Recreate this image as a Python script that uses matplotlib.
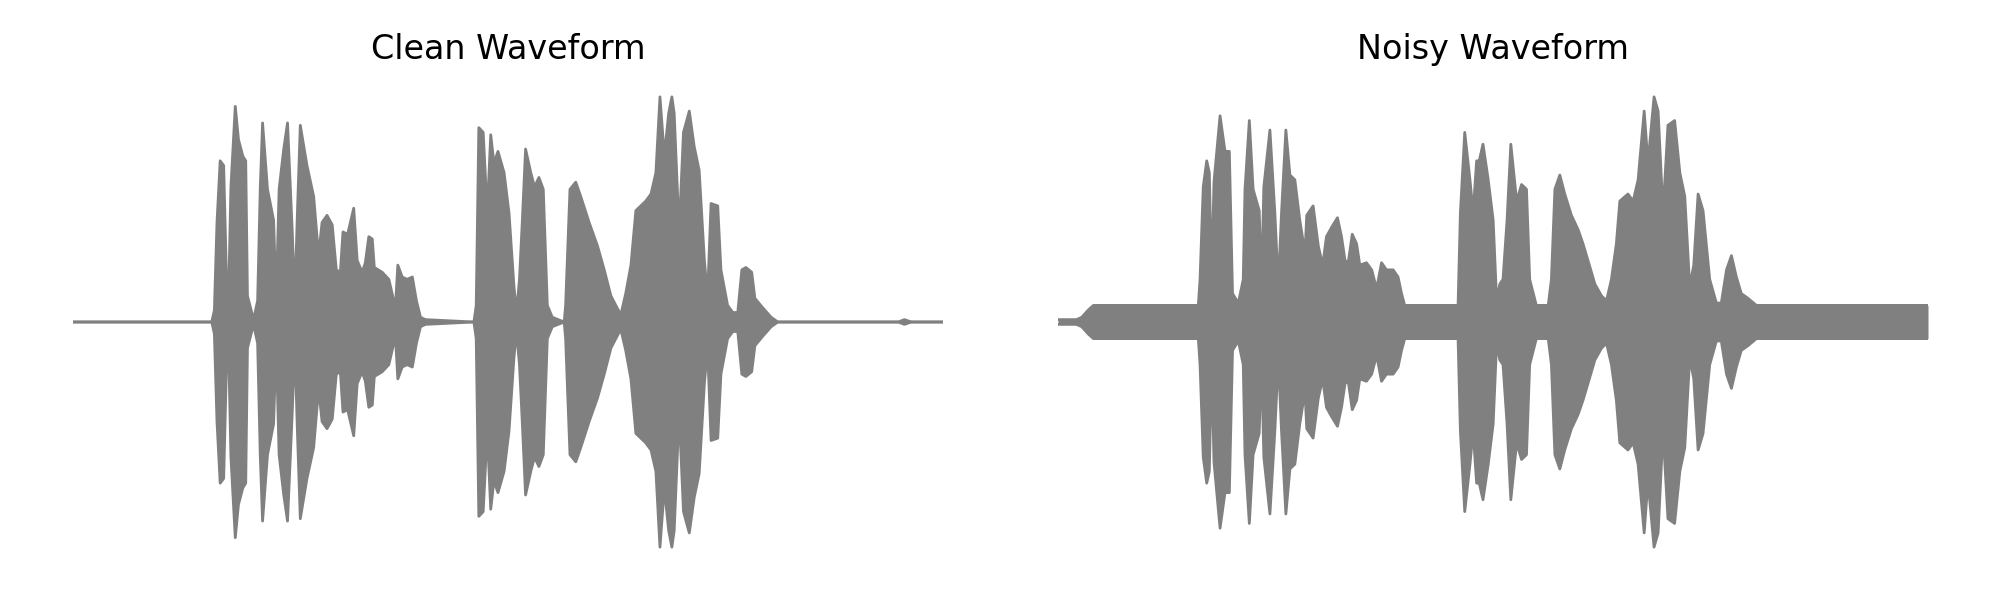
import matplotlib.pyplot as plt

# Envelope of the clean waveform (time in s, peak amplitude)
clean_t = [0.000, 0.478, 0.487, 0.496, 0.507, 0.519, 0.530, 0.536, 0.544, 0.559,
           0.570, 0.585, 0.595, 0.601, 0.622, 0.636, 0.645, 0.653, 0.670, 0.691,
           0.700, 0.710, 0.726, 0.739, 0.755, 0.764, 0.773, 0.783, 0.806, 0.829,
           0.846, 0.858, 0.875, 0.893, 0.907, 0.921, 0.930, 0.946, 0.967, 0.979,
           0.996, 1.007, 1.019, 1.031, 1.038, 1.065, 1.088, 1.105, 1.111, 1.119,
           1.134, 1.151, 1.169, 1.183, 1.197, 1.214, 1.381, 1.389, 1.398, 1.413,
           1.427, 1.439, 1.450, 1.464, 1.485, 1.502, 1.519, 1.528, 1.538, 1.548,
           1.559, 1.577, 1.590, 1.605, 1.620, 1.634, 1.651, 1.692, 1.697, 1.712,
           1.732, 1.749, 1.778, 1.807, 1.830, 1.853, 1.870, 1.887, 1.904, 1.922,
           1.939, 1.956, 1.973, 1.991, 2.008, 2.022, 2.037, 2.052, 2.063, 2.071,
           2.088, 2.103, 2.123, 2.140, 2.157, 2.175, 2.186, 2.198, 2.221, 2.232,
           2.255, 2.273, 2.290, 2.304, 2.318, 2.338, 2.349, 2.376, 2.405, 2.428,
           2.843, 2.864, 2.888, 2.997]
clean_amp = [0.00, 0.00, 0.05, 0.42, 0.68, 0.66, 0.12, 0.11, 0.57, 0.91,
             0.77, 0.70, 0.68, 0.11, 0.01, 0.09, 0.56, 0.84, 0.56, 0.43,
             0.09, 0.56, 0.73, 0.84, 0.39, 0.09, 0.46, 0.83, 0.66, 0.53,
             0.28, 0.42, 0.45, 0.41, 0.22, 0.21, 0.38, 0.37, 0.48, 0.26,
             0.21, 0.25, 0.36, 0.35, 0.23, 0.21, 0.18, 0.09, 0.07, 0.24,
             0.19, 0.18, 0.19, 0.09, 0.02, 0.01, 0.00, 0.07, 0.82, 0.80,
             0.46, 0.79, 0.67, 0.72, 0.63, 0.46, 0.15, 0.04, 0.18, 0.43,
             0.73, 0.63, 0.57, 0.61, 0.56, 0.07, 0.02, 0.00, 0.07, 0.56,
             0.59, 0.53, 0.42, 0.32, 0.22, 0.11, 0.07, 0.03, 0.12, 0.24,
             0.47, 0.49, 0.51, 0.54, 0.63, 0.95, 0.70, 0.88, 0.95, 0.88,
             0.38, 0.80, 0.89, 0.74, 0.64, 0.26, 0.11, 0.50, 0.49, 0.22,
             0.07, 0.04, 0.04, 0.22, 0.23, 0.21, 0.10, 0.06, 0.02, 0.00,
             0.00, 0.01, 0.00, 0.00]

# Envelope of the noisy waveform
noisy_t = [0.000, 0.064, 0.082, 0.104, 0.122, 0.484, 0.490, 0.501, 0.513, 0.522,
           0.530, 0.538, 0.559, 0.576, 0.591, 0.602, 0.622, 0.639, 0.645, 0.660,
           0.673, 0.694, 0.702, 0.710, 0.731, 0.748, 0.760, 0.771, 0.786, 0.800,
           0.817, 0.834, 0.852, 0.858, 0.880, 0.898, 0.913, 0.926, 0.944, 0.964,
           0.978, 0.990, 1.001, 1.015, 1.030, 1.041, 1.064, 1.082, 1.099, 1.116,
           1.133, 1.156, 1.173, 1.185, 1.196, 1.380, 1.388, 1.403, 1.421, 1.432,
           1.444, 1.453, 1.466, 1.484, 1.501, 1.513, 1.524, 1.535, 1.549, 1.562,
           1.582, 1.599, 1.616, 1.627, 1.650, 1.691, 1.702, 1.714, 1.731, 1.748,
           1.771, 1.794, 1.811, 1.828, 1.852, 1.875, 1.892, 1.909, 1.926, 1.938,
           1.966, 1.984, 2.001, 2.022, 2.035, 2.056, 2.070, 2.087, 2.104, 2.127,
           2.145, 2.162, 2.179, 2.193, 2.208, 2.225, 2.248, 2.271, 2.288, 2.306,
           2.323, 2.340, 2.357, 2.380, 2.409, 3.001]
noisy_amp = [0.01, 0.01, 0.02, 0.05, 0.07, 0.07, 0.18, 0.57, 0.68, 0.63,
             0.16, 0.59, 0.87, 0.72, 0.72, 0.12, 0.08, 0.18, 0.56, 0.85,
             0.56, 0.47, 0.15, 0.57, 0.81, 0.46, 0.15, 0.46, 0.81, 0.62,
             0.60, 0.43, 0.29, 0.45, 0.49, 0.32, 0.24, 0.36, 0.40, 0.44,
             0.36, 0.26, 0.25, 0.37, 0.33, 0.24, 0.25, 0.22, 0.14, 0.25,
             0.22, 0.22, 0.19, 0.12, 0.07, 0.07, 0.46, 0.80, 0.60, 0.46,
             0.68, 0.68, 0.75, 0.60, 0.43, 0.09, 0.16, 0.18, 0.43, 0.75,
             0.51, 0.58, 0.56, 0.18, 0.07, 0.07, 0.18, 0.56, 0.62, 0.54,
             0.45, 0.39, 0.33, 0.26, 0.16, 0.11, 0.09, 0.18, 0.33, 0.51,
             0.54, 0.51, 0.60, 0.89, 0.67, 0.95, 0.89, 0.46, 0.83, 0.85,
             0.63, 0.53, 0.15, 0.24, 0.54, 0.47, 0.18, 0.08, 0.08, 0.22,
             0.28, 0.19, 0.12, 0.10, 0.07, 0.07]

titles = ['Clean Waveform', 'Noisy Waveform']
waves = [(clean_t, clean_amp), (noisy_t, noisy_amp)]

fig = plt.figure(figsize=(20, 6), dpi=100)
lefts = [73 / 2000, 1058 / 2000]

for left, title, (t, amp) in zip(lefts, titles, waves):
    ax = fig.add_axes([left, 41 / 600, 870 / 2000, 474 / 600])
    neg = [-a for a in amp]
    ax.fill_between(t, neg, amp, color='gray', linewidth=0)
    ax.plot(t, amp, color='gray', linewidth=2, solid_capstyle='round')
    ax.plot(t, neg, color='gray', linewidth=2, solid_capstyle='round')
    ax.set_xlim(t[0], t[-1])
    ax.set_ylim(-1, 1)
    ax.set_title(title, fontsize=24, pad=19)
    ax.axis('off')

plt.savefig('out.png', dpi=100)
plt.close()
